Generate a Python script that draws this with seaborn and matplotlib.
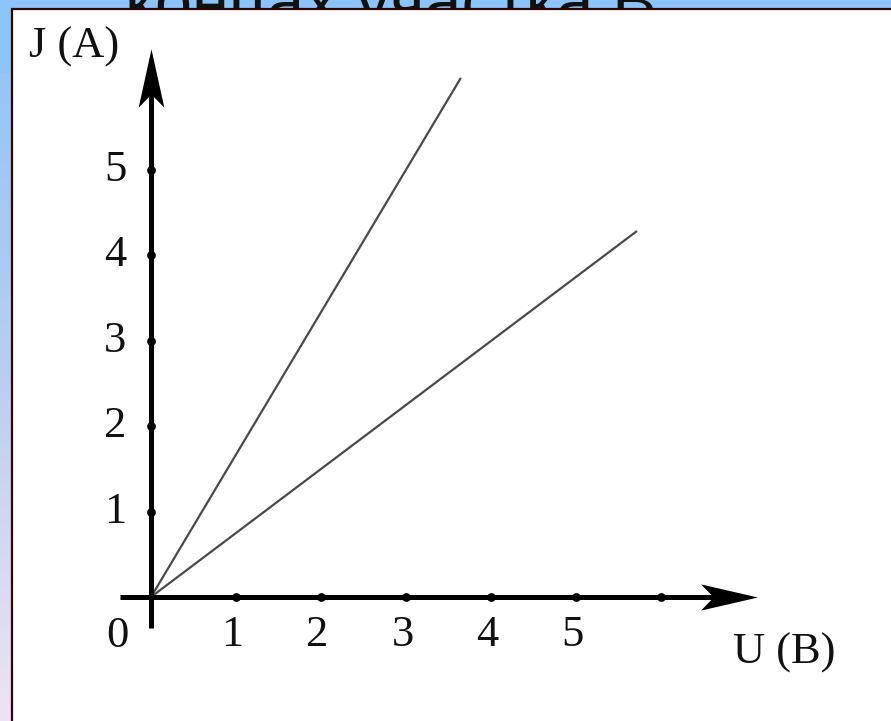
import numpy as np
import pandas as pd
import matplotlib
matplotlib.use("Agg")
import matplotlib.pyplot as plt
from matplotlib.patches import Rectangle
from matplotlib.path import Path
from matplotlib.colors import LinearSegmentedColormap
import seaborn as sns

# --- data -------------------------------------------------------------
u_steep = [0.0, 3.64]      # U (B)
j_steep = [0.0, 6.07]      # J (A)
u_shallow = [0.0, 5.71]
j_shallow = [0.0, 4.28]

u_ticks = [1, 2, 3, 4, 5, 6]
u_tick_labels = ["1", "2", "3", "4", "5", ""]
j_ticks = [1, 2, 3, 4, 5]
j_tick_labels = ["1", "2", "3", "4", "5"]

heading = "концах участка В"
u_label = "U (B)"
j_label = "J (A)"

# --- style ------------------------------------------------------------
sns.set_theme(style="white")
plt.rcParams["font.family"] = ["Liberation Serif", "DejaVu Serif"]

W, H, DPI = 891, 721, 100
fig = plt.figure(figsize=(W / DPI, H / DPI), dpi=DPI)

# slide background: light-blue band with a blue-to-lavender gradient at left
bg = fig.add_axes([0, 0, 1, 1], zorder=0)
bg.set_axis_off()
cmap = LinearSegmentedColormap.from_list("slide", ["#8ec3f8", "#b8cdf0", "#efe3f3"])
grad = np.linspace(0, 1, 256).reshape(-1, 1)
bg.imshow(grad, aspect="auto", cmap=cmap, extent=[0, 1, 0, 1], origin="upper")
bg.add_patch(Rectangle((0, 0.9), 1, 0.1, color="#8cc4fa", transform=bg.transAxes))
bg.set_xlim(0, 1)
bg.set_ylim(0, 1)

# slide heading, partly hidden behind the white panel
t = fig.text(125 / W, 1 - 24 / H, heading, fontsize=42, color="#111111",
             family=["Liberation Sans", "DejaVu Sans"], ha="left", va="baseline",
             zorder=1)
fig.canvas.draw()
ext = t.get_window_extent()
t.set_fontsize(42 * (657 - 125) / ext.width)

# white panel with dark border
panel_x, panel_y = 12 / W, 9 / H
fig.patches.append(Rectangle((panel_x, -0.01), 1.02 - panel_x, 1 - panel_y + 0.01,
                             transform=fig.transFigure, facecolor="white",
                             edgecolor="#2a0606", linewidth=1.6, zorder=2))

# --- chart ------------------------------------------------------------
ax = fig.add_axes([0, 0, 1, 1], zorder=3)
ax.patch.set_alpha(0)
ax.set_axis_off()
ox, oy, sx, sy = 151, 597, 85.0, 85.4          # origin and unit size in pixels
ax.set_xlim(-ox / sx, (W - ox) / sx)
ax.set_ylim((oy - H) / sy, oy / sy)

line_kw = dict(color="#4a4a4a", linewidth=1.6, ax=ax)
sns.lineplot(x=u_steep, y=j_steep, **line_kw)
sns.lineplot(x=u_shallow, y=j_shallow, **line_kw)

# axes with arrow heads
u_end, j_end, neg = 7.13, 6.42, -0.36
ax.plot([neg, u_end - 0.3], [0, 0], color="black", lw=3.6, solid_capstyle="butt", zorder=4)
ax.plot([0, 0], [neg, j_end - 0.3], color="black", lw=3.6, solid_capstyle="butt", zorder=4)

head_right = Path([(1, 0), (-1, 0.46), (-0.55, 0), (-1, -0.46), (1, 0)],
                  [Path.MOVETO, Path.LINETO, Path.LINETO, Path.LINETO, Path.CLOSEPOLY])
head_up = Path([(0, 1), (0.44, -1), (0, -0.55), (-0.44, -1), (0, 1)],
               [Path.MOVETO, Path.LINETO, Path.LINETO, Path.LINETO, Path.CLOSEPOLY])
ax.plot([u_end - 0.335], [0], marker=head_right, markersize=41, color="black",
        markeredgewidth=0, zorder=5)
ax.plot([0], [j_end - 0.34], marker=head_up, markersize=42, color="black",
        markeredgewidth=0, zorder=5)

# tick dots
ax.scatter(u_ticks, [0] * len(u_ticks), s=40, color="black", zorder=5, linewidths=0)
ax.scatter([0] * len(j_ticks), j_ticks, s=40, color="black", zorder=5, linewidths=0)

txt_kw = dict(fontsize=32, color="#111111", ha="center", va="center")
for u, lab in zip(u_ticks, u_tick_labels):
    ax.text(u - 0.04, -0.45, lab, **txt_kw)
for j, lab in zip(j_ticks, j_tick_labels):
    ax.text(-0.42, j, lab, **txt_kw)
ax.text(-0.4, -0.46, "0", **txt_kw)
ax.text(7.45, -0.65, u_label, **txt_kw)
ax.text(-0.9, 6.44, j_label, **txt_kw)

fig.savefig("out.png", dpi=DPI)
